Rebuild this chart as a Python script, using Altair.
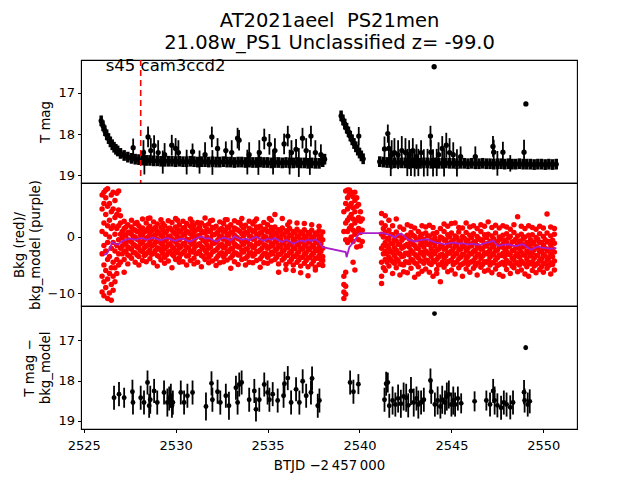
import altair as alt
import pandas as pd

FONT = "DejaVu Sans"

# ---------------- Panel 1: T mag light curve ----------------
band_t = [2525.95, 2526.05, 2526.15, 2526.25, 2526.35, 2526.45, 2526.55, 2526.65, 2526.75, 2526.85,
          2527.0, 2527.2, 2527.4, 2527.6, 2527.8, 2528.0, 2528.2, 2528.4, 2528.6, 2528.8,
          2529.0, 2529.2, 2529.4, 2529.6, 2529.8, 2530.0, 2530.2, 2530.4, 2530.6, 2530.8,
          2531.0, 2531.2, 2531.4, 2531.6, 2531.8, 2532.0, 2532.2, 2532.4, 2532.6, 2532.8,
          2533.0, 2533.2, 2533.4, 2533.6, 2533.8, 2534.0, 2534.2, 2534.4, 2534.6, 2534.8,
          2535.0, 2535.2, 2535.4, 2535.6, 2535.8, 2536.0, 2536.2, 2536.4, 2536.6, 2536.8,
          2537.0, 2537.2, 2537.4, 2537.6, 2537.8, 2538.0, 2538.1,
          2539.0, 2539.1, 2539.2, 2539.3, 2539.4, 2539.5, 2539.6, 2539.7, 2539.8, 2539.9,
          2540.0, 2540.1, 2540.2,
          2541.1, 2541.3, 2541.5, 2541.7, 2541.9, 2542.1, 2542.3, 2542.5, 2542.7, 2542.9,
          2543.1, 2543.3, 2543.5, 2543.7, 2543.9, 2544.1, 2544.3, 2544.5, 2544.7, 2544.9,
          2545.1, 2545.3, 2545.5, 2545.7, 2545.9, 2546.1, 2546.3, 2546.5, 2546.7, 2546.9,
          2547.1, 2547.3, 2547.5, 2547.7, 2547.9, 2548.1, 2548.3, 2548.5, 2548.7, 2548.9,
          2549.1, 2549.3, 2549.5, 2549.7, 2549.9, 2550.1, 2550.3, 2550.5, 2550.7]
band_m = [17.68, 17.80, 17.92, 18.02, 18.11, 18.19, 18.26, 18.32, 18.37, 18.41,
          18.47, 18.52, 18.56, 18.59, 18.61, 18.62, 18.63, 18.64, 18.64, 18.65,
          18.65, 18.66, 18.66, 18.66, 18.66, 18.67, 18.66, 18.67, 18.67, 18.66,
          18.67, 18.68, 18.67, 18.67, 18.68, 18.67, 18.68, 18.68, 18.67, 18.68,
          18.68, 18.69, 18.68, 18.68, 18.69, 18.68, 18.69, 18.69, 18.68, 18.69,
          18.69, 18.70, 18.69, 18.69, 18.70, 18.69, 18.70, 18.70, 18.69, 18.70,
          18.70, 18.71, 18.70, 18.71, 18.71, 18.67, 18.61,
          17.56, 17.66, 17.76, 17.86, 17.95, 18.05, 18.14, 18.23, 18.31, 18.39,
          18.46, 18.53, 18.60,
          18.67, 18.68, 18.69, 18.69, 18.70, 18.69, 18.70, 18.70, 18.69, 18.70,
          18.70, 18.71, 18.70, 18.70, 18.71, 18.70, 18.71, 18.71, 18.70, 18.71,
          18.71, 18.72, 18.71, 18.71, 18.72, 18.71, 18.72, 18.72, 18.71, 18.72,
          18.72, 18.73, 18.72, 18.72, 18.73, 18.72, 18.73, 18.73, 18.72, 18.73,
          18.73, 18.73, 18.74, 18.73, 18.73, 18.74, 18.73, 18.74, 18.73]
spike_t = [2527.69, 2528.25, 2528.3, 2528.5, 2528.65, 2528.83, 2529.05, 2529.3, 2529.4, 2529.79,
           2530.0, 2530.15, 2530.6, 2530.92, 2531.3, 2531.6, 2531.97, 2532.0, 2532.28, 2532.73,
           2533.05, 2533.37, 2533.45, 2533.9, 2534.0, 2534.5, 2534.55, 2534.82, 2535.1, 2535.3,
           2535.4, 2535.9, 2536.1, 2536.2, 2536.3, 2536.55, 2536.7, 2536.9, 2537.1, 2537.3,
           2537.36, 2537.6, 2537.9,
           2539.96,
           2541.36, 2541.54, 2541.6, 2541.7, 2541.75, 2541.9, 2542.1, 2542.3, 2542.5, 2542.6,
           2542.7, 2542.8, 2542.9, 2543.0, 2543.1, 2543.2, 2543.35, 2543.5, 2543.7, 2543.86,
           2543.88, 2544.0, 2544.2, 2544.3, 2544.5, 2544.6, 2544.72, 2544.9, 2545.1, 2545.3,
           2545.5, 2546.3, 2547.26, 2547.3, 2547.5, 2547.8, 2548.2, 2548.95,
           2544.06, 2549.05]
spike_m = [18.33, 18.45, 18.68, 18.07, 18.40, 18.28, 18.45, 18.68, 18.50, 18.27,
           18.35, 18.45, 18.68, 18.43, 18.68, 18.50, 18.07, 18.69, 18.35, 18.40,
           18.45, 18.10, 18.15, 18.68, 18.50, 18.69, 18.45, 18.12, 18.25, 18.68,
           18.40, 18.24, 18.05, 18.68, 18.45, 18.37, 18.69, 18.10, 18.40, 18.69,
           18.05, 18.45, 18.50,
           18.05,
           18.36, 17.99, 18.35, 18.69, 18.50, 18.45, 18.50, 18.40, 18.45, 18.69,
           18.50, 18.69, 18.40, 18.70, 18.55, 18.69, 18.45, 18.70, 18.69, 18.05,
           18.44, 18.70, 18.69, 18.50, 18.35, 18.70, 18.27, 18.45, 18.50, 18.70,
           18.55, 18.55, 18.30, 18.44, 18.71, 18.44, 18.71, 18.44,
           16.37, 17.27]
spike_e = [0.22, 0.30, 0.30, 0.25, 0.30, 0.25, 0.30, 0.28, 0.28, 0.25,
           0.25, 0.30, 0.30, 0.20, 0.28, 0.30, 0.25, 0.30, 0.25, 0.22,
           0.30, 0.25, 0.25, 0.30, 0.30, 0.30, 0.30, 0.25, 0.25, 0.30,
           0.30, 0.25, 0.25, 0.30, 0.30, 0.25, 0.35, 0.25, 0.30, 0.30,
           0.25, 0.30, 0.25,
           0.22,
           0.30, 0.22, 0.30, 0.33, 0.35, 0.35, 0.35, 0.35, 0.35, 0.33,
           0.35, 0.33, 0.30, 0.33, 0.30, 0.33, 0.30, 0.33, 0.33, 0.25,
           0.30, 0.33, 0.33, 0.30, 0.30, 0.33, 0.30, 0.35, 0.30, 0.33,
           0.25, 0.25, 0.25, 0.30, 0.30, 0.25, 0.20, 0.30,
           0.0, 0.05]

# ---------------- Panel 2: background (red) and model (purple) ----------------
bkg_t = [2526.0, 2526.1, 2526.2, 2526.3, 2526.4, 2526.5, 2526.6, 2526.7, 2526.8, 2526.9, 2527.0,
         2527.2, 2527.4, 2527.6, 2527.8, 2528.0, 2528.2, 2528.4, 2528.6, 2528.8, 2529.0,
         2529.2, 2529.4, 2529.6, 2529.8, 2530.0, 2530.2, 2530.4, 2530.6, 2530.8, 2531.0,
         2531.2, 2531.4, 2531.6, 2531.8, 2532.0, 2532.2, 2532.4, 2532.6, 2532.8, 2533.0,
         2533.2, 2533.4, 2533.6, 2533.8, 2534.0, 2534.2, 2534.4, 2534.6, 2534.8, 2535.0,
         2535.2, 2535.4, 2535.6, 2535.8, 2536.0, 2536.2, 2536.4, 2536.6, 2536.8, 2537.0,
         2537.2, 2537.4, 2537.6, 2537.8, 2538.0,
         2539.15, 2539.25, 2539.35, 2539.45, 2539.55, 2539.65, 2539.75, 2539.85, 2539.95, 2540.05, 2540.15,
         2541.2, 2541.4, 2541.6, 2541.8, 2542.0, 2542.2, 2542.4, 2542.6, 2542.8, 2543.0,
         2543.2, 2543.4, 2543.6, 2543.8, 2544.0, 2544.2, 2544.4, 2544.6, 2544.8, 2545.0,
         2545.2, 2545.4, 2545.6, 2545.8, 2546.0, 2546.2, 2546.4, 2546.6, 2546.8, 2547.0,
         2547.2, 2547.4, 2547.6, 2547.8, 2548.0, 2548.2, 2548.4, 2548.6, 2548.8, 2549.0,
         2549.2, 2549.4, 2549.6, 2549.8, 2550.0, 2550.2, 2550.4, 2550.6]
bkg_v = [
    [-9.8, -7.0, -3.0, 1.0, 5.0, 7.5],
    [-10.5, -8.0, -5.0, -1.5, 2.5, 6.0, 8.0],
    [-9.0, -6.0, -2.5, 0.5, 4.0, 7.0, 8.4],
    [-11.0, -7.5, -4.0, -1.0, 2.0, 5.5, 8.6],
    [-10.0, -6.5, -3.5, 0.0, 3.0, 6.0],
    [-11.3, -8.5, -5.5, -2.0, 1.5, 4.5, 7.5],
    [-9.5, -7.0, -4.5, -1.0, 2.0, 5.0, 8.0],
    [-8.0, -5.5, -2.5, 0.5, 3.5, 6.5],
    [-6.5, -4.0, -1.5, 1.5, 4.0, 7.8],
    [-5.0, -3.0, -0.5, 2.0, 4.8, 8.2],
    [-4.5, -2.0, 0.5, 2.5, 3.8],
    [-4.0, -2.5, -1.2, 0.3, 1.5, 2.8, -6.3],
    [-3.2, -1.8, -0.5, 0.8, 2.2, -4.8],
    [-3.8, -2.2, -0.9, 0.5, 1.8, 3.0],
    [-4.5, -2.8, -1.5, 0.0, 1.2, 2.4],
    [-3.5, -2.0, -0.6, 0.9, 2.0, -5.0],
    [-4.2, -2.6, -1.0, 0.4, 1.6, 3.2],
    [-3.0, -1.6, -0.2, 1.1, 2.5, -4.4],
    [-3.9, -2.3, -0.8, 0.6, 1.9, 3.4],
    [-4.6, -2.9, -1.4, 0.2, 1.4, 2.7],
    [-3.3, -1.9, -0.4, 1.0, 2.3, -5.2],
    [-4.1, -2.4, -1.1, 0.3, 1.7, 3.1],
    [-3.6, -2.1, -0.7, 0.7, 2.0, -4.7],
    [-4.3, -2.7, -1.3, 0.1, 1.5, 2.9],
    [-3.1, -1.7, -0.3, 1.2, 2.6, -5.5],
    [-4.0, -2.5, -0.9, 0.5, 1.8, 3.3],
    [-3.7, -2.0, -0.5, 0.9, 2.2, -4.5],
    [-4.4, -2.8, -1.2, 0.4, 1.6, 2.8],
    [-3.4, -1.8, -0.4, 1.0, 2.4, -5.0],
    [-4.2, -2.6, -1.0, 0.6, 1.9, 3.2],
    [-3.8, -2.2, -0.7, 0.8, 2.1, -4.8],
    [-4.5, -2.9, -1.4, 0.2, 1.4, 2.6],
    [-3.3, -1.7, -0.2, 1.1, 2.5, -5.3],
    [-4.0, -2.4, -0.8, 0.7, 2.0, 3.4],
    [-3.6, -2.0, -0.5, 1.0, 2.3, -4.6],
    [-4.3, -2.7, -1.1, 0.4, 1.7, 3.0],
    [-3.9, -2.3, -0.9, 0.6, 1.9, -5.1],
    [-4.6, -3.0, -1.5, 0.1, 1.3, 2.7],
    [-3.5, -1.9, -0.4, 1.0, 2.4, -4.4],
    [-4.1, -2.5, -1.0, 0.5, 1.8, 3.1],
    [-3.7, -2.1, -0.6, 0.9, 2.2, -5.6],
    [-4.4, -2.8, -1.2, 0.3, 1.6, 2.9],
    [-3.2, -1.8, -0.3, 1.2, 2.6, -4.9],
    [-4.0, -2.4, -0.9, 0.6, 2.0, 3.3],
    [-3.8, -2.2, -0.7, 0.8, 2.1, -5.0],
    [-4.5, -2.9, -1.3, 0.2, 1.5, 2.8],
    [-3.4, -1.9, -0.4, 1.0, 2.3, -4.6],
    [-4.2, -2.6, -1.1, 0.5, 1.8, 3.2],
    [-3.9, -2.3, -0.8, 0.7, 1.9, -5.4],
    [-4.6, -3.0, -1.4, 0.1, 1.4, 2.6],
    [-3.6, -2.0, -0.6, 0.9, 2.2, -4.7],
    [-4.3, -2.7, -1.2, 0.3, 1.7, 3.0],
    [-4.0, -2.4, -0.9, 0.6, 1.8, 4.0],
    [-4.8, -3.1, -1.5, 0.0, 1.3, -6.3],
    [-4.1, -2.6, -1.1, 0.4, 1.6, 3.3],
    [-4.9, -3.3, -1.7, -0.2, 1.1, -5.8],
    [-4.4, -2.8, -1.3, 0.2, 1.5, 2.7],
    [-5.0, -3.4, -1.9, -0.4, 1.0, -6.0],
    [-4.5, -3.0, -1.4, 0.1, 1.4, 2.5],
    [-5.2, -3.6, -2.0, -0.5, 0.9, -6.4],
    [-4.7, -3.1, -1.6, -0.1, 1.3, 2.4],
    [-5.3, -3.7, -2.1, -0.6, 0.8, -6.9],
    [-4.8, -3.2, -1.7, -0.2, 1.2, 2.2],
    [-5.4, -3.8, -2.2, -0.7, 0.7, -5.9],
    [-4.9, -3.3, -1.8, -0.3, 1.1, 1.9],
    [-5.1, -3.5, -2.0, -0.5, 0.9, -4.2],
    [-11.0, -9.8, -8.5, -7.0, 1.0, 4.5],
    [-10.2, -8.8, -6.3, -0.5, 2.5, 6.0, 8.2],
    [-1.0, 1.0, 3.0, 5.0, 7.0, 8.4],
    [-0.5, 1.5, 3.5, 5.5, 7.5, 8.4],
    [0.0, 2.0, 4.0, 6.0, 8.0],
    [-4.5, -0.8, 1.2, 3.2, 5.2, 7.2],
    [-5.9, 0.5, 2.5, 4.5, 6.5, 8.0],
    [-1.8, 1.0, 3.0, 5.5, 7.0],
    [-0.5, 1.5, 3.5, 5.8],
    [-1.6, 0.8, 2.8, 4.5],
    [-0.8, 1.2, 3.2],
    [-8.3, -7.0, -4.5, -2.0, 0.5, 2.5, 4.2],
    [-6.0, -4.0, -2.5, -1.0, 0.8, 2.0, 3.8],
    [-5.2, -3.6, -2.0, -0.4, 1.2, 3.0],
    [-6.5, -4.4, -2.8, -1.2, 0.4, 2.0],
    [-5.5, -3.9, -2.3, -0.7, 0.9, 3.2],
    [-6.8, -4.8, -3.0, -1.4, 0.2, 1.8],
    [-5.0, -3.4, -1.8, -0.2, 1.4, -6.2],
    [-6.4, -4.5, -2.9, -1.3, 0.3, 2.2],
    [-5.6, -4.0, -2.4, -0.8, 0.8, 1.9],
    [-7.2, -4.6, -3.1, -1.5, 0.1, 1.6],
    [-5.3, -3.7, -2.1, -0.5, 1.0, -6.6],
    [-6.1, -4.3, -2.7, -1.1, 0.5, 2.0],
    [-5.7, -4.1, -2.5, -0.9, 0.7, 1.8],
    [-6.3, -4.7, -3.0, -1.4, 0.2, 2.1],
    [-7.0, -4.2, -2.6, -1.0, 0.6, 1.7],
    [-5.8, -4.0, -2.4, -0.8, 0.8, -6.5],
    [-8.0, -4.9, -3.2, -1.6, 0.0, 1.5],
    [-5.4, -3.8, -2.2, -0.6, 1.0, 2.3],
    [-6.2, -4.4, -2.8, -1.2, 0.4, 1.9],
    [-5.9, -4.1, -2.5, -0.9, 0.7, 2.4],
    [-6.6, -4.6, -3.0, -1.4, 0.2, 2.5],
    [-5.5, -3.9, -2.3, -0.7, 0.9, 1.7],
    [-7.0, -4.8, -3.1, -1.5, 0.1, 1.6],
    [-5.7, -4.0, -2.4, -0.8, 0.8, 2.5],
    [-6.3, -4.5, -2.9, -1.3, 0.3, 1.8],
    [-5.6, -4.2, -2.6, -1.0, 0.6, 2.0],
    [-6.8, -4.7, -3.1, -1.5, 0.1, 1.5],
    [-5.4, -3.8, -2.2, -0.6, 1.0, 2.2],
    [-6.1, -4.4, -2.8, -1.2, 0.4, 1.9],
    [-5.9, -4.3, -2.7, -1.1, 0.5, 2.7],
    [-6.4, -4.6, -3.0, -1.4, 0.2, 1.7],
    [-5.7, -4.1, -2.5, -0.9, 0.7, 2.1],
    [-6.7, -4.9, -3.2, -1.6, 0.0, 1.6],
    [-7.0, -4.5, -2.9, -1.3, 0.3, 2.0],
    [-5.8, -4.2, -2.6, -1.0, 0.6, 1.8],
    [-6.5, -4.7, -3.1, -1.5, 0.1, 1.4],
    [-5.5, -4.0, -2.4, -0.8, 0.8, 2.2],
    [-6.2, -4.6, -3.0, -1.4, 0.2, 3.6],
    [-5.9, -4.3, -2.7, -1.1, 0.5, 1.9],
    [-6.6, -4.8, -3.2, -1.6, 0.0, 1.5],
    [-7.0, -4.5, -2.9, -1.3, 0.3, 2.0],
    [-6.0, -4.4, -2.8, -1.2, 0.4, 1.7],
    [-6.4, -4.9, -3.3, -1.7, -0.1, 1.4],
    [-5.8, -4.2, -2.6, -1.0, 0.6, 1.9],
    [-6.3, -4.7, -3.1, -1.5, 0.1, 1.6],
    [-5.6, -4.1, -2.5, -0.9, 0.7, 4.1],
    [-6.6, -4.6, -3.0, -1.4, 0.2, 1.8],
    [-5.9, -4.3, -2.7, -1.1, 0.5, 1.5],
]
bkg_mid_t = [2527.1, 2527.3, 2527.5, 2527.7, 2527.9, 2528.1, 2528.3, 2528.5, 2528.7, 2528.9,
             2529.1, 2529.3, 2529.5, 2529.7, 2529.9, 2530.1, 2530.3, 2530.5, 2530.7, 2530.9,
             2531.1, 2531.3, 2531.5, 2531.7, 2531.9, 2532.1, 2532.3, 2532.5, 2532.7, 2532.9,
             2533.1, 2533.3, 2533.5, 2533.7, 2533.9, 2534.1, 2534.3, 2534.5, 2534.7, 2534.9,
             2535.1, 2535.3, 2535.5, 2535.7, 2535.9, 2536.1, 2536.3, 2536.5, 2536.7, 2536.9,
             2537.1, 2537.3, 2537.5, 2537.7, 2537.9,
             2541.3, 2541.5, 2541.7, 2541.9, 2542.1, 2542.3, 2542.5, 2542.7, 2542.9, 2543.1,
             2543.3, 2543.5, 2543.7, 2543.9, 2544.1, 2544.3, 2544.5, 2544.7, 2544.9, 2545.1,
             2545.3, 2545.5, 2545.7, 2545.9, 2546.1, 2546.3, 2546.5, 2546.7, 2546.9, 2547.1,
             2547.3, 2547.5, 2547.7, 2547.9, 2548.1, 2548.3, 2548.5, 2548.7, 2548.9, 2549.1,
             2549.3, 2549.5, 2549.7, 2549.9, 2550.1, 2550.3, 2550.5]
bkg_mid_v = [
    [-3.0, -1.6, -0.2, 1.0], [-2.6, -1.1, 0.3, 1.8], [-3.4, -2.0, -0.6, 0.9], [-2.8, -1.3, 0.1, 1.4],
    [-3.2, -1.8, -0.4, 1.0, 2.6], [-2.5, -1.2, 0.3, 1.3], [-3.3, -1.9, -0.5, 0.9], [-2.7, -1.4, 0.0, 1.5, 3.3],
    [-3.1, -1.6, -0.3, 1.1], [-2.4, -1.0, 0.4, 1.7], [-3.5, -2.1, -0.7, 0.7], [-2.9, -1.5, 0.0, 1.3, 2.4],
    [-3.2, -1.8, -0.4, 1.0], [-2.6, -1.2, 0.2, 1.6], [-3.4, -2.0, -0.6, 0.8], [-2.8, -1.4, 0.1, 1.4, 3.0],
    [-3.1, -1.7, -0.2, 1.1], [-2.5, -1.1, 0.4, 1.7], [-3.3, -1.9, -0.5, 0.9], [-2.7, -1.3, 0.1, 1.5, 2.7],
    [-3.0, -1.6, -0.1, 1.2], [-2.6, -1.2, 0.3, 1.8], [-3.5, -2.0, -0.6, 0.8], [-2.9, -1.4, 0.0, 1.4],
    [-3.2, -1.8, -0.3, 1.1, 2.9], [-2.5, -1.1, 0.4, 1.6], [-3.4, -1.9, -0.5, 0.9], [-2.8, -1.3, 0.2, 1.5],
    [-3.1, -1.7, -0.2, 1.2, 3.1], [-2.6, -1.2, 0.3, 1.7], [-3.3, -2.0, -0.6, 0.8], [-2.9, -1.5, 0.0, 1.4],
    [-3.2, -1.8, -0.4, 1.0, 2.5], [-2.7, -1.3, 0.2, 1.6], [-3.5, -2.1, -0.7, 0.7], [-2.8, -1.4, 0.1, 1.3],
    [-3.1, -1.7, -0.3, 1.1, 2.8], [-2.6, -1.2, 0.3, 1.6], [-3.4, -2.0, -0.5, 0.9], [-2.9, -1.5, 0.0, 1.4],
    [-3.2, -1.8, -0.4, 1.0, 3.3], [-3.0, -1.6, -0.1, 1.2], [-3.6, -2.2, -0.8, 0.6], [-3.1, -1.8, -0.3, 1.0],
    [-3.8, -2.4, -1.0, 0.5], [-3.3, -1.9, -0.5, 0.9, 2.2], [-4.0, -2.6, -1.2, 0.3], [-3.5, -2.1, -0.6, 0.8],
    [-4.1, -2.7, -1.3, 0.2], [-3.6, -2.2, -0.8, 0.6], [-4.2, -2.8, -1.4, 0.1], [-3.7, -2.3, -0.9, 0.5],
    [-4.3, -2.9, -1.5, 0.0], [-3.8, -2.4, -1.0, 0.4], [-4.0, -2.6, -1.2, 0.2],
    [-5.5, -3.0, -1.5, 0.0, 1.5], [-4.5, -3.0, -1.6, -0.2], [-4.0, -2.6, -1.1, 0.4], [-4.7, -3.3, -1.9, -0.5],
    [-4.2, -2.8, -1.3, 0.2], [-4.9, -3.5, -2.0, -0.6], [-4.4, -2.9, -1.5, 0.0], [-4.6, -3.2, -1.8, -0.3],
    [-4.1, -2.7, -1.2, 0.3], [-4.8, -3.4, -2.0, -0.5], [-4.3, -2.9, -1.4, 0.1], [-4.7, -3.3, -1.8, -0.4],
    [-4.2, -2.8, -1.3, 0.2], [-4.9, -3.5, -2.1, -0.6], [-4.4, -3.0, -1.6, -0.1], [-5.0, -3.6, -2.2, -0.7],
    [-4.5, -3.1, -1.7, -0.2], [-4.8, -3.4, -2.0, -0.5], [-4.3, -2.9, -1.5, 0.0], [-4.9, -3.5, -2.1, -0.6],
    [-4.4, -3.0, -1.6, -0.1], [-5.0, -3.6, -2.2, -0.7], [-4.6, -3.2, -1.7, -0.2], [-4.9, -3.5, -2.0, -0.6],
    [-4.4, -3.0, -1.6, -0.1], [-5.1, -3.7, -2.3, -0.8], [-4.6, -3.1, -1.7, -0.3], [-4.9, -3.4, -2.0, -0.5],
    [-4.5, -3.0, -1.6, -0.1], [-5.0, -3.6, -2.2, -0.7], [-4.6, -3.2, -1.7, -0.3], [-5.1, -3.7, -2.3, -0.8],
    [-4.7, -3.3, -1.8, -0.4], [-5.0, -3.5, -2.1, -0.6], [-4.6, -3.1, -1.7, -0.2], [-5.2, -3.8, -2.4, -0.9],
    [-4.7, -3.3, -1.9, -0.4], [-5.0, -3.6, -2.1, -0.7], [-4.6, -3.2, -1.8, -0.3], [-5.3, -3.9, -2.5, -1.0],
    [-4.8, -3.4, -2.0, -0.5], [-5.2, -3.8, -2.3, -0.9], [-4.7, -3.3, -1.9, -0.4], [-5.3, -3.9, -2.4, -1.0],
    [-4.8, -3.4, -2.0, -0.5], [-5.1, -3.7, -2.2, -0.8], [-4.9, -3.5, -2.1, -0.6],
]
model_t = [2526.1, 2526.25, 2526.4, 2526.55, 2526.7, 2526.85, 2527.0, 2527.2, 2527.4, 2527.6,
           2527.8, 2528.0, 2528.2, 2528.4, 2528.6, 2528.8, 2529.0, 2529.2, 2529.4, 2529.6,
           2529.8, 2530.0, 2530.2, 2530.4, 2530.6, 2530.8, 2531.0, 2531.2, 2531.4, 2531.6,
           2531.8, 2532.0, 2532.2, 2532.4, 2532.6, 2532.8, 2533.0, 2533.2, 2533.4, 2533.6,
           2533.8, 2534.0, 2534.2, 2534.4, 2534.6, 2534.8, 2535.0, 2535.2, 2535.4, 2535.6,
           2535.8, 2536.0, 2536.2, 2536.4, 2536.6, 2536.8, 2537.0, 2537.2, 2537.4, 2537.6,
           2537.8, 2538.0, 2539.25, 2539.3, 2539.45, 2539.6, 2539.8, 2540.0, 2541.3, 2541.5,
           2541.72, 2541.9, 2542.1, 2542.27, 2542.45, 2542.63, 2542.8, 2543.0, 2543.2, 2543.4,
           2543.7, 2543.9, 2544.17, 2544.4, 2544.62, 2544.9, 2545.17, 2545.4, 2545.6, 2545.9,
           2546.2, 2546.4, 2546.62, 2546.9, 2547.1, 2547.26, 2547.53, 2547.8, 2548.08, 2548.3,
           2548.53, 2548.7, 2548.9, 2549.1, 2549.35, 2549.5, 2549.71, 2549.9, 2550.17, 2550.4,
           2550.71]
model_v = [-3.2, -3.0, -2.2, -0.9, -1.2, -1.4, -1.0, -0.6, -0.4, -0.3,
           -0.5, -0.3, -0.2, -0.5, -0.3, -0.1, -0.4, -0.6, -0.3, -0.2,
           -0.5, -0.7, -0.4, -0.3, -0.6, -0.8, -0.4, -0.1, 0.1, -0.3,
           -0.2, -0.5, -0.8, -0.4, -0.1, -0.3, -0.6, 0.1, -0.2, -0.5,
           -0.3, -0.6, -0.2, 0.0, -0.4, -0.7, -0.3, -0.5, -0.2, -0.6,
           -0.9, -0.5, -0.8, -1.2, -0.9, -0.6, -0.8, -0.5, -0.7, -0.4,
           -0.9, -1.8, -2.7, -3.6, -1.8, -1.2, -0.3, 0.7, 0.7, 0.5,
           0.3, -0.1, 0.4, 0.6, 0.1, -0.4, -0.6, -0.8, -0.6, -0.5,
           -0.4, -0.7, -1.0, -1.1, -1.3, -1.1, -1.0, -1.2, -1.1, -1.3,
           -1.2, -1.4, -1.3, -1.0, -0.9, -0.6, -1.6, -1.4, -1.3, -1.5,
           -1.6, -1.4, -1.3, -1.8, -2.3, -2.0, -1.7, -1.9, -2.0, -2.1,
           -2.0]

# ---------------- Panel 3: T mag - bkg_model ----------------
diff_t = [2526.65, 2526.92, 2527.2, 2527.65, 2527.68, 2528.1, 2528.28, 2528.47, 2528.56, 2528.62,
          2528.83, 2529.0, 2529.37, 2529.55, 2529.65, 2529.74, 2529.8, 2529.85, 2530.28, 2530.46,
          2530.64, 2530.92, 2531.65, 2531.95, 2532.0, 2532.28, 2532.43, 2532.73, 2532.9, 2533.28,
          2533.37, 2533.46, 2533.59, 2534.0, 2534.28, 2534.37, 2534.55, 2534.82, 2535.0, 2535.1,
          2535.28, 2535.55, 2535.87, 2535.92, 2536.1, 2536.28, 2536.55, 2536.73, 2536.91, 2537.1,
          2537.36, 2537.42, 2537.73, 2537.82,
          2539.49, 2539.67, 2539.94,
          2541.36, 2541.45, 2541.54, 2541.62, 2541.8, 2541.95, 2542.1, 2542.25, 2542.4, 2542.54,
          2542.65, 2542.8, 2542.95, 2543.1, 2543.2, 2543.35, 2543.5, 2543.86, 2543.9, 2544.08,
          2544.1, 2544.25, 2544.4, 2544.5, 2544.65, 2544.75, 2544.86, 2545.0, 2545.1, 2545.2,
          2545.35, 2545.53, 2546.26, 2546.9, 2547.1, 2547.27, 2547.35, 2547.5, 2547.7, 2547.85,
          2548.0, 2548.2, 2548.35, 2548.95, 2548.98, 2549.04, 2549.15, 2549.26]
diff_m = [18.43, 18.34, 18.43, 18.28, 18.55, 18.43, 18.55, 18.05, 18.63, 18.48,
          18.26, 18.55, 18.30, 18.55, 18.45, 18.38, 18.63, 18.55, 18.30, 18.55,
          18.38, 18.30, 18.65, 18.07, 18.48, 18.28, 18.55, 18.38, 18.63, 18.18,
          18.55, 18.10, 18.05, 18.48, 18.26, 18.72, 18.48, 18.10, 18.30, 18.48,
          18.34, 18.50, 18.38, 18.08, 17.94, 18.55, 18.22, 18.55, 18.02, 18.38,
          18.30, 17.95, 18.63, 18.50,
          18.05, 18.28, 18.09,
          18.48, 18.08, 18.05, 18.63, 18.50, 18.60, 18.45, 18.58, 18.40, 18.43,
          18.62, 18.26, 18.55, 18.45, 18.60, 18.55, 18.48, 18.00, 18.28, 16.33,
          18.60, 18.50, 18.65, 18.48, 18.55, 18.40, 18.35, 18.60, 18.50, 18.60,
          18.45, 18.57, 18.52, 18.50, 18.60, 18.26, 18.50, 18.62, 18.68, 18.55,
          18.60, 18.67, 18.55, 18.29, 18.50, 17.18, 18.60, 18.52]
diff_e = [0.30, 0.30, 0.25, 0.30, 0.30, 0.30, 0.30, 0.30, 0.30, 0.35,
          0.30, 0.30, 0.30, 0.35, 0.30, 0.30, 0.30, 0.30, 0.30, 0.30,
          0.30, 0.30, 0.35, 0.30, 0.30, 0.30, 0.30, 0.30, 0.35, 0.30,
          0.30, 0.30, 0.30, 0.30, 0.30, 0.30, 0.30, 0.30, 0.30, 0.30,
          0.30, 0.30, 0.30, 0.30, 0.30, 0.30, 0.30, 0.30, 0.30, 0.30,
          0.30, 0.30, 0.30, 0.30,
          0.30, 0.30, 0.25,
          0.30, 0.30, 0.25, 0.30, 0.35, 0.30, 0.35, 0.35, 0.35, 0.35,
          0.30, 0.35, 0.35, 0.30, 0.35, 0.30, 0.30, 0.30, 0.30, 0.0,
          0.30, 0.35, 0.30, 0.35, 0.30, 0.35, 0.35, 0.30, 0.35, 0.30,
          0.30, 0.25, 0.25, 0.25, 0.30, 0.30, 0.35, 0.30, 0.30, 0.30,
          0.30, 0.30, 0.30, 0.30, 0.30, 0.06, 0.30, 0.30]

x_ticks = [2525, 2530, 2535, 2540, 2545, 2550]
mag_ticks = [17, 18, 19]
bkg_ticks = [-10, 0]
title_lines = ["AT2021aeel\u00a0 PS21men", "21.08w_PS1 Unclassified z= -99.0"]
label_text = "s45 cam3ccd2"
sector_line_t = 2528.1

# ---------------- build tables ----------------
lc = pd.DataFrame({
    "t": band_t + spike_t,
    "mag": band_m + spike_m,
    "err": [0.13] * len(band_t) + spike_e,
    "w": [3.5] * len(band_t) + [1.8] * len(spike_t),
})
lc["lo"] = lc["mag"] - lc["err"]
lc["hi"] = lc["mag"] + lc["err"]

bk_rows = []
for t, vals in zip(bkg_t + bkg_mid_t, bkg_v + bkg_mid_v):
    for v in vals:
        bk_rows.append({"t": t, "bkg": v})
bk = pd.DataFrame(bk_rows)
md = pd.DataFrame({"t": model_t, "model": model_v})

df3 = pd.DataFrame({"t": diff_t, "mag": diff_m, "err": diff_e})
df3["lo"] = df3["mag"] - df3["err"]
df3["hi"] = df3["mag"] + df3["err"]

W, H = 496, 123
xs = alt.Scale(domain=[2524.853, 2551.83], nice=False, zero=False)
ys1 = alt.Scale(domain=[16.206, 19.187], reverse=True, nice=False, zero=False)
ys2 = alt.Scale(domain=[-12.32, 9.64], nice=False, zero=False)
ys3 = alt.Scale(domain=[16.14, 19.21], reverse=True, nice=False, zero=False)

xnone = alt.X("t:Q", scale=xs, axis=None)

# Panel 1
base1 = alt.Chart(lc)
err1 = base1.mark_rule(color="black").encode(
    x=xnone,
    y=alt.Y("lo:Q", scale=ys1, axis=alt.Axis(values=mag_ticks, title="T mag")),
    y2="hi:Q",
    strokeWidth=alt.StrokeWidth("w:Q", scale=None),
)
pts1 = base1.mark_circle(color="black", size=28, opacity=1).encode(x=xnone, y=alt.Y("mag:Q", scale=ys1))
vline = alt.Chart(pd.DataFrame({"t": [sector_line_t]})).mark_rule(
    color="red", strokeDash=[6, 4], strokeWidth=1.6
).encode(x=xnone)
txt = alt.Chart(pd.DataFrame({"t": [2526.2], "mag": [16.34], "label": [label_text]})).mark_text(
    align="left", baseline="middle", font=FONT, fontSize=16.5, color="black"
).encode(x=xnone, y=alt.Y("mag:Q", scale=ys1), text="label:N")
p1 = alt.layer(err1, pts1, vline, txt).properties(width=W, height=H)

# Panel 2
pts2 = alt.Chart(bk).mark_circle(color="#ff0000", size=30, opacity=1).encode(
    x=xnone,
    y=alt.Y("bkg:Q", scale=ys2,
            axis=alt.Axis(values=bkg_ticks, title=["Bkg (red)/", "bkg_model (purple)"])),
)
line2 = alt.Chart(md).mark_line(color="#a81ec8", strokeWidth=1.8).encode(
    x=xnone, y=alt.Y("model:Q", scale=ys2)
)
p2 = alt.layer(pts2, line2).properties(width=W, height=H)

# Panel 3
xb = alt.X("t:Q", scale=xs, axis=alt.Axis(values=x_ticks, format="d",
                                          title="BTJD \u22122\u2009457\u2009000"))
base3 = alt.Chart(df3)
err3 = base3.mark_rule(color="black", strokeWidth=1.8).encode(
    x=xb,
    y=alt.Y("lo:Q", scale=ys3, axis=alt.Axis(values=mag_ticks, title=["T mag \u2212", "bkg_model"])),
    y2="hi:Q",
)
pts3 = base3.mark_circle(color="black", size=24, opacity=1).encode(x=xb, y=alt.Y("mag:Q", scale=ys3))
p3 = alt.layer(err3, pts3).properties(width=W, height=H)

chart = alt.vconcat(p1, p2, p3, spacing=0, bounds="flush").properties(
    title=alt.TitleParams(title_lines, fontSize=19.5, font=FONT, fontWeight="normal",
                          anchor="middle", lineHeight=22, offset=3, color="black", dx=35),
    padding={"left": 3, "top": 3, "right": 5, "bottom": 5},
).configure_view(stroke="black", strokeWidth=1.1).configure_axis(
    labelFont=FONT, labelFontSize=13, titleFont=FONT, titleFontSize=13.3,
    titleFontWeight="normal", labelColor="black", titleColor="black",
    domainColor="black", tickColor="black", tickSize=3.5, grid=False,
    labelPadding=3, titlePadding=5, titleLineHeight=16, domain=True,
).configure_axisY(labelFlush=False).configure_axisX(labelFlush=False, labelPadding=7, titlePadding=6)

chart.save("out.html", embed_options={"renderer": "svg", "actions": False})
